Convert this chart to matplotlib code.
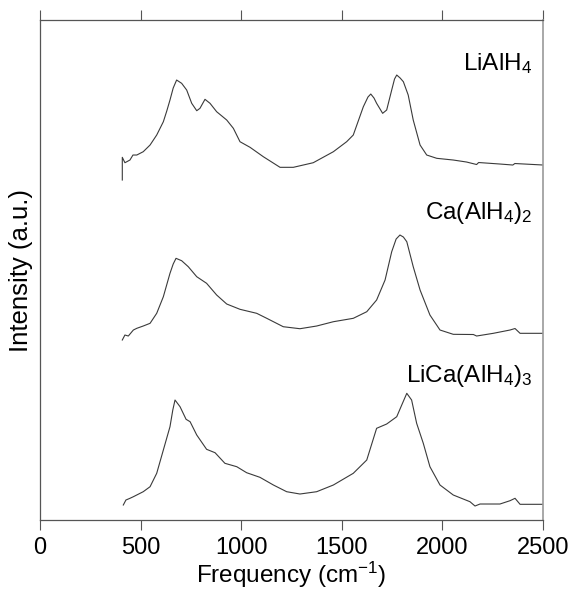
import numpy as np
import matplotlib as mpl
mpl.use('Agg')
mpl.rc('font', family='Liberation Sans', size=17)
mpl.rc('mathtext', default='regular')
from matplotlib import pyplot as plt

# IR spectra (frequency in cm-1, intensity in a.u.)
lialh4_f = [409, 409, 422, 447, 462, 481, 513, 547, 580, 613, 630, 646, 662, 679, 704, 729,
            754, 779, 795, 820, 845, 878, 928, 961, 994, 1044, 1110, 1193, 1259, 1358, 1458,
            1524, 1557, 1607, 1630, 1644, 1660, 1673, 1703, 1723, 1748, 1762, 1773, 1790, 1806,
            1830, 1855, 1889, 1922, 1972, 2054, 2120, 2170, 2180, 2286, 2350, 2360, 2501]
lialh4_i = [340, 362.7, 357.3, 360, 365, 365, 368.3, 375, 385, 398.3, 409, 420, 432, 440,
            436.7, 430, 416.7, 409.3, 411.7, 420.7, 416.7, 408.3, 400, 391.7, 378.3, 372.7,
            363.3, 352.7, 352.7, 357.3, 368.3, 378.3, 385, 413.3, 423, 426, 422, 416.7, 406.7,
            410, 430, 441, 445, 442, 438.3, 425, 400, 375, 365, 361.7, 360, 358, 355.5, 357.5,
            356, 355, 356.5, 355]

caalh4_f = [409, 422, 439, 464, 481, 513, 547, 580, 613, 646, 662, 676, 704, 737, 779, 828,
            878, 928, 994, 1077, 1127, 1209, 1292, 1375, 1458, 1557, 1624, 1673, 1715, 1748,
            1770, 1789, 1806, 1823, 1855, 1889, 1938, 1988, 2054, 2154, 2170, 2253, 2336, 2361,
            2386, 2501]
caalh4_i = [180, 185, 184, 190, 191.7, 194, 196.7, 206.7, 223.3, 246.7, 256, 261.7, 259.3,
            253.3, 243.3, 236.7, 225, 216, 210.7, 206.7, 201.7, 193.3, 191.3, 194, 198.3, 201.7,
            208.3, 220, 240, 268.3, 281, 285, 283, 278.3, 253.3, 230, 205, 190, 185.7, 185.5,
            184, 186.7, 190, 191.5, 186.7, 186.7]

licaalh4_f = [414, 427, 447, 464, 513, 547, 580, 613, 646, 660, 671, 696, 726, 746, 779, 828,
              870, 919, 978, 1027, 1093, 1160, 1226, 1292, 1375, 1458, 1557, 1624, 1673, 1723,
              1773, 1800, 1823, 1847, 1872, 1905, 1938, 1988, 2054, 2137, 2162, 2187, 2286,
              2336, 2361, 2386, 2501]
licaalh4_i = [15, 20, 21.7, 23.3, 28.3, 33.3, 46.7, 70, 93.3, 110, 120, 113.3, 100.7, 98.3,
              85, 70.7, 67.3, 56.7, 53.3, 47.3, 42.7, 35, 28.3, 26, 28.3, 35, 46.7, 60, 91.7, 96,
              103.3, 116, 126.7, 120, 96.7, 76.7, 53.3, 35, 25, 18.3, 14, 16, 16, 19.3, 21.7,
              15.7, 15.7]

names = ['LiAlH$_4$', 'Ca(AlH$_4$)$_2$', 'LiCa(AlH$_4$)$_3$']
name_y = [456, 307, 144]

fig = plt.figure(figsize=(5.74, 5.96), dpi=100)
ax = fig.add_axes([0.0697, 0.1275, 0.8763, 0.8389])

line_color = '#3a3a3a'
for f, i in [(lialh4_f, lialh4_i), (caalh4_f, caalh4_i), (licaalh4_f, licaalh4_i)]:
    ax.plot(f, i, color=line_color, lw=0.8)

for name, y in zip(names, name_y):
    ax.text(2448, y, name, ha='right', va='center', fontsize=17.5)

ax.set_xlim(0, 2500)
ax.set_ylim(0, 500)
ax.set_xticks([0, 500, 1000, 1500, 2000, 2500])
ax.set_yticks([])
ax.tick_params(axis='x', direction='out', length=7, width=0.8, color='#555555',
               top=True, labeltop=False, labelsize=17, pad=5)
for side in ['left', 'bottom', 'top']:
    ax.spines[side].set_color('#555555')
    ax.spines[side].set_linewidth(0.9)
ax.spines['right'].set_color('#999999')
ax.spines['right'].set_linewidth(1.2)

ax.set_xlabel('Frequency (cm$^{-1}$)', fontsize=17.5, labelpad=1)
ax.set_ylabel('Intensity (a.u.)', fontsize=18.5, labelpad=5)

plt.savefig('out.png', dpi=100)
